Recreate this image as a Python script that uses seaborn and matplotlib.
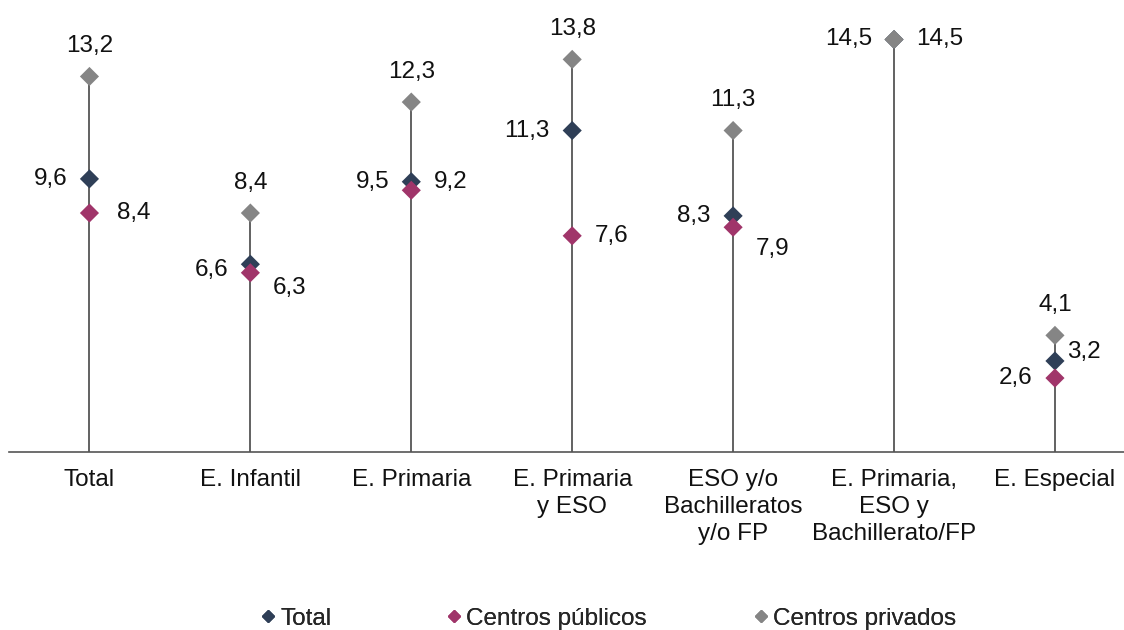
import matplotlib
matplotlib.use("Agg")
import matplotlib.pyplot as plt
from matplotlib.lines import Line2D
import seaborn as sns
import pandas as pd

# ── data ─────────────────────────────────────────────────────────────────────
categorias = ["Total", "E. Infantil", "E. Primaria", "E. Primaria\ny ESO",
              "ESO y/o\nBachilleratos\ny/o FP", "E. Primaria,\nESO y\nBachillerato/FP",
              "E. Especial"]
total    = [9.6, 6.6, 9.5, 11.3, 8.3, 14.5, 3.2]
publicos = [8.4, 6.3, 9.2, 7.6, 7.9, None, 2.6]
privados = [13.2, 8.4, 12.3, 13.8, 11.3, 14.5, 4.1]

series = {"Total": total, "Centros públicos": publicos, "Centros privados": privados}
colores = {"Total": "#2F3F57", "Centros públicos": "#A0356A", "Centros privados": "#858585"}

rows = []
for name, vals in series.items():
    for i, v in enumerate(vals):
        if v is not None:
            rows.append({"x": i, "valor": v, "serie": name})
df = pd.DataFrame(rows)

# label placement per series (left / right / above), with a few exceptions
place = {"Total": "left", "Centros públicos": "right", "Centros privados": "above"}
exceptions = {("Total", 6): "right", ("Centros públicos", 6): "left",
              ("Centros privados", 5): "right"}
nudge_y = {("Centros públicos", 2): 6, ("Centros públicos", 1): -11, ("Total", 1): -4,
           ("Centros públicos", 4): -16, ("Total", 6): 6.5}
nudge_x = {("Total", 6): 9, ("Centros públicos", 0): 20}

FS = 17.5
sns.set_theme(style="white")
plt.rcParams["font.family"] = ["Liberation Sans", "DejaVu Sans"]

fig = plt.figure(figsize=(11.24, 6.3), dpi=100)
ax = fig.add_axes([0.008, 0.2825, 0.995, 0.70])

# stems from 0 to the highest value of each category
tops = df.groupby("x")["valor"].max()
ax.vlines(tops.index, 0, tops.values, color="#555555", lw=1.3, zorder=1)

sns.scatterplot(data=df, x="x", y="valor", hue="serie", palette=colores,
                marker="D", s=95, edgecolor="none", legend=False, ax=ax, zorder=3)

for _, r in df.iterrows():
    key = (r["serie"], int(r["x"]))
    pos = exceptions.get(key, place[r["serie"]])
    dy = nudge_y.get(key, 0)
    txt = f"{r['valor']:.1f}".replace(".", ",")
    if pos == "left":
        dx = nudge_x.get(key, 16)
        ax.annotate(txt, (r["x"], r["valor"]), xytext=(-dx, dy), textcoords="offset points",
                    ha="right", va="center", fontsize=FS, color="#111111")
    elif pos == "right":
        dx = nudge_x.get(key, 16)
        ax.annotate(txt, (r["x"], r["valor"]), xytext=(dx, dy), textcoords="offset points",
                    ha="left", va="center", fontsize=FS, color="#111111")
    else:
        ax.annotate(txt, (r["x"], r["valor"]), xytext=(0, 14), textcoords="offset points",
                    ha="center", va="bottom", fontsize=FS, color="#111111")

ax.set_xlim(-0.5, 6.45)
ax.set_ylim(0, 15.5)
ax.set_xticks(range(len(categorias)))
ax.set_xticklabels(categorias, fontsize=FS, color="#111111", linespacing=1.3)
ax.tick_params(axis="x", length=0, pad=12)
ax.set_yticks([])
ax.set_xlabel("")
ax.set_ylabel("")
for s in ["top", "left", "right"]:
    ax.spines[s].set_visible(False)
ax.spines["bottom"].set_color("#555555")
ax.spines["bottom"].set_linewidth(1.2)

# legend: three separate entries, spaced as in the original
legend_x = [0.228, 0.393, 0.666]
for (n, c), lx in zip(colores.items(), legend_x):
    h = Line2D([], [], marker="D", ls="none", color=c, markersize=6.5, label=n)
    leg = fig.legend(handles=[h], loc="center left", bbox_to_anchor=(lx, 0.018),
                     frameon=False, fontsize=FS, handletextpad=0.0, handlelength=1.0,
                     borderaxespad=0, borderpad=0)
    fig.add_artist(leg)

fig.savefig("out.png", dpi=100)
